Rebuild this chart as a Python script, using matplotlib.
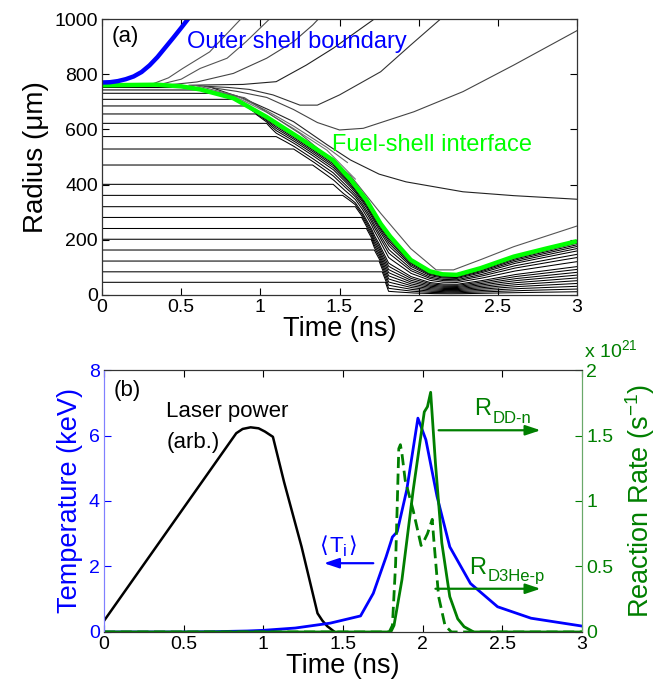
import numpy as np
import matplotlib
matplotlib.use("Agg")
import matplotlib.pyplot as plt

plt.rcParams['font.family'] = ['Liberation Sans', 'DejaVu Sans']
plt.rcParams['mathtext.fontset'] = 'custom'
plt.rcParams['mathtext.rm'] = 'Liberation Sans'
plt.rcParams['mathtext.it'] = 'Liberation Sans:italic'

# ---------------- panel (a): zone boundary trajectories ----------------
# fuel-shell interface radius (um) vs time (ns)
iface_t = [0.0, 0.35, 0.50, 0.62, 0.83, 1.04, 1.25, 1.46, 1.57, 1.67, 1.76, 1.82, 1.95, 2.07, 2.15, 2.24, 2.39, 2.60, 2.81, 3.0]
iface_r = [760, 762, 756, 745, 713, 645, 568, 488, 418, 344, 258, 212, 127, 86, 75, 73, 97, 139, 169, 195]

# outer shell boundary
outer_t = [0.0, 0.05, 0.10, 0.15, 0.20, 0.25, 0.30, 0.35, 0.40, 0.45, 0.50, 0.55]
outer_r = [770, 771, 775, 782, 792, 808, 832, 862, 897, 932, 968, 1005]

# initial radii of the fuel zone boundaries
fuel_r0 = [46, 84, 123, 163, 202, 241, 281, 320, 361, 401, 471, 529, 574, 622, 656, 685, 709, 731, 743, 752]
fuel_R0 = 760

# compression front: time at which it reaches a given radius
front_t = [0.0, 0.50, 0.62, 0.70, 0.85, 0.91, 0.97, 1.04, 1.10, 1.21, 1.33, 1.46, 1.52, 1.60, 1.64, 1.67, 1.70, 1.72, 1.75, 1.77, 1.79, 1.81, 3.0]
front_r = [760, 757, 745, 733, 709, 685, 656, 622, 574, 529, 471, 401, 361, 320, 281, 241, 202, 163, 123, 84, 46, 0, 0]

# ablated shell zone boundaries (t, r)
shell_lines = [
    ([0.32, 0.42, 0.51, 0.68, 0.87, 0.92], [765, 787, 821, 881, 996, 1020]),
    ([0.38, 0.50, 0.62, 0.79, 0.91, 1.04, 1.08], [765, 782, 821, 858, 918, 990, 1012]),
    ([0.45, 0.60, 0.83, 1.04, 1.21, 1.33, 1.37], [763, 772, 803, 858, 918, 978, 1002]),
    ([0.55, 0.75, 0.89, 1.10, 1.29, 1.46, 1.71, 1.74], [760, 762, 763, 773, 833, 894, 996, 1010]),
    ([0.60, 0.80, 0.93, 1.08, 1.25, 1.36, 1.50, 1.76, 1.95, 2.13, 2.16], [758, 752, 745, 725, 688, 688, 725, 809, 906, 996, 1010]),
    ([0.65, 0.85, 1.04, 1.21, 1.36, 1.50, 1.65, 1.97, 2.28, 2.60, 3.0], [755, 738, 716, 672, 625, 598, 604, 664, 737, 833, 958]),
    ([0.70, 0.89, 1.05, 1.21, 1.42, 1.57, 1.75, 1.92, 2.28, 2.60, 3.0], [750, 713, 672, 628, 545, 489, 438, 410, 374, 360, 347]),
    ([0.55, 0.83, 1.04, 1.21, 1.42, 1.60], [758, 722, 662, 603, 525, 420]),
    ([0.60, 0.85, 1.04, 1.21, 1.42, 1.55], [758, 722, 668, 612, 535, 480]),
    ([0.50, 0.90, 1.25, 1.57, 1.76, 1.95, 2.11, 2.22, 2.40, 2.60, 3.0], [760, 715, 585, 432, 296, 168, 91, 91, 130, 175, 250]),
]
shell_colors = ['#555555', '#555555', '#444444', '#222222', '#333333', '#444444', '#222222', '#777777', '#666666', '#555555']

# ---------------- panel (b): temperature, laser, reaction rates ----------------
laser_t = [0.0, 0.83, 0.87, 0.92, 0.97, 1.01, 1.06, 1.13, 1.24, 1.34, 1.37, 1.40, 1.44]
laser_p = [0.34, 6.07, 6.20, 6.25, 6.22, 6.12, 5.96, 4.58, 2.60, 0.57, 0.35, 0.18, 0.03]

ti_t = [0.0, 0.5, 0.7, 0.9, 1.0, 1.2, 1.42, 1.61, 1.69, 1.77, 1.81, 1.84, 1.90, 1.97, 2.02, 2.09, 2.17, 2.30, 2.47, 2.68, 3.0]
ti_T = [0.0, 0.0, 0.01, 0.03, 0.05, 0.12, 0.27, 0.49, 1.18, 2.29, 2.90, 3.06, 4.34, 6.53, 5.87, 4.14, 2.60, 1.48, 0.77, 0.42, 0.18]

rdd_t = [0.0, 1.80, 1.82, 1.87, 1.94, 2.01, 2.03, 2.05, 2.08, 2.12, 2.17, 2.22, 2.26, 2.32, 3.0]
rdd_r = [0.0, 0.0, 0.05, 0.40, 1.08, 1.68, 1.72, 1.83, 1.29, 0.68, 0.27, 0.10, 0.04, 0.0, 0.0]

rhe_t = [0.0, 1.79, 1.81, 1.83, 1.85, 1.86, 1.87, 1.89, 1.94, 1.99, 2.01, 2.03, 2.06, 2.07, 2.10, 2.14, 2.18, 3.0]
rhe_r = [0.0, 0.0, 0.05, 0.52, 1.40, 1.43, 1.36, 1.16, 0.93, 0.66, 0.70, 0.75, 0.86, 0.70, 0.27, 0.05, 0.0, 0.0]

time_ticks = [0, 0.5, 1, 1.5, 2, 2.5, 3]
time_labels = ['0', '0.5', '1', '1.5', '2', '2.5', '3']

BLUE = '#0000ff'
LIME = '#00ff00'
DKGREEN = '#007f00'
TICK_FS = 14
LABEL_FS = 19.5

fig = plt.figure(figsize=(6.68, 6.87), dpi=100)
ax1 = fig.add_axes([0.1527, 0.5706, 0.7111, 0.4017])

# fuel zone boundaries
t = np.linspace(0, 3, 1501)
R = np.interp(t, iface_t, iface_r)
C = np.minimum(np.interp(t, front_t, front_r), R)
den = np.where(fuel_R0 - C > 1e-9, fuel_R0 - C, 1.0)
for r0 in fuel_r0:
    frac = np.clip((r0 - C) / den, 0, 1)
    r = np.where(r0 < C, r0, C + (R - C) * frac)
    ax1.plot(t, r, color='black', lw=0.75)

for (st, sr), c in zip(shell_lines, shell_colors):
    ax1.plot(st, sr, color=c, lw=0.8)

ax1.plot(iface_t, iface_r, color=LIME, lw=3.2, solid_capstyle='butt')
ax1.plot(outer_t, outer_r, color=BLUE, lw=3.2, solid_capstyle='butt')

ax1.set_xlim(0, 3)
ax1.set_ylim(0, 1000)
ax1.set_xticks(time_ticks)
ax1.set_xticklabels(time_labels)
ax1.set_yticks([0, 200, 400, 600, 800, 1000])
ax1.tick_params(direction='in', top=True, right=True, labelsize=TICK_FS, length=5, width=0.8, pad=3)
ax1.set_xlabel('Time (ns)', fontsize=LABEL_FS, labelpad=0)
ax1.set_ylabel('Radius (\u03bcm)', fontsize=20, labelpad=4)
for s in ax1.spines.values():
    s.set_color('#333333')
    s.set_linewidth(0.9)
ax1.text(0.02, 0.935, '(a)', transform=ax1.transAxes, fontsize=16, va='center')
ax1.text(0.535, 915, 'Outer shell boundary', color=BLUE, fontsize=17, va='center')
ax1.text(1.45, 545, 'Fuel-shell interface', color=LIME, fontsize=17, va='center')

# ---------------- panel (b) ----------------
ax2 = fig.add_axes([0.1557, 0.0801, 0.7156, 0.3813])
ax3 = ax2.twinx()

ax2.plot(laser_t, laser_p, color='black', lw=1.8)
ax2.plot(ti_t, ti_T, color=BLUE, lw=2.0)
ax3.plot(rdd_t, rdd_r, color=DKGREEN, lw=2.0)
ax3.plot(rhe_t, rhe_r, color=DKGREEN, lw=2.0, ls=(0, (4, 2)))

ax2.set_xlim(0, 3)
ax2.set_ylim(0, 8)
ax3.set_ylim(0, 2)
ax2.set_xticks(time_ticks)
ax2.set_xticklabels(time_labels)
ax2.set_yticks([0, 2, 4, 6, 8])
ax3.set_yticks([0, 0.5, 1, 1.5, 2])
ax3.set_yticklabels(['0', '0.5', '1', '1.5', '2'])
ax2.tick_params(axis='x', direction='in', top=True, labelsize=TICK_FS, length=5, width=0.8, pad=3)
ax2.tick_params(axis='y', direction='in', labelsize=TICK_FS, length=5, width=0.8, colors=BLUE, pad=3)
ax3.tick_params(axis='y', direction='in', labelsize=TICK_FS, length=5, width=0.8, colors=DKGREEN, pad=3)
ax2.set_xlabel('Time (ns)', fontsize=LABEL_FS, labelpad=0)
ax2.set_ylabel('Temperature (keV)', fontsize=LABEL_FS, color=BLUE, labelpad=4)
ax3.set_ylabel('Reaction Rate (s$^{-1}$)', fontsize=LABEL_FS, color=DKGREEN, labelpad=7)
for ax in (ax2, ax3):
    ax.spines['top'].set_color('#333333')
    ax.spines['bottom'].set_color('#333333')
    ax.spines['left'].set_color('#8080ff')
    ax.spines['right'].set_color('#6aa86a')

ax2.text(0.02, 0.92, '(b)', transform=ax2.transAxes, fontsize=16, va='center')
ax2.text(0.39, 6.72, 'Laser power', fontsize=16, va='center')
ax2.text(0.39, 5.78, '(arb.)', fontsize=16, va='center')

arrow_kw = dict(arrowstyle='-|>,head_length=0.9,head_width=0.3', lw=1.6, shrinkA=0, shrinkB=0)
ax2.annotate('', xy=(1.38, 2.1), xytext=(1.69, 2.1),
             arrowprops=dict(color=BLUE, **arrow_kw))
# <Ti> label built from pieces so the angle brackets come from DejaVu Sans
ti_anchor = (1.35, 2.62)
for txt, dx, dy, fs, fam in [('\u27e8', 0, 0, 16, 'DejaVu Sans'),
                             ('T', 7.5, 0, 16, 'Liberation Sans'),
                             ('i', 17.2, -3.5, 12, 'Liberation Sans'),
                             ('\u27e9', 21.0, 0, 16, 'DejaVu Sans')]:
    ax2.annotate(txt, xy=ti_anchor, xytext=(dx, dy), textcoords='offset points',
                 color=BLUE, fontsize=fs, family=fam, va='center', ha='left')

ax3.annotate('', xy=(2.74, 1.54), xytext=(2.10, 1.54),
             arrowprops=dict(color=DKGREEN, **arrow_kw))
ax3.text(2.32, 1.70, 'R', color=DKGREEN, fontsize=17, va='center', ha='left')
ax3.text(2.44, 1.63, 'DD-n', color=DKGREEN, fontsize=12, va='center', ha='left')

ax3.annotate('', xy=(2.74, 0.33), xytext=(2.08, 0.33),
             arrowprops=dict(color=DKGREEN, **arrow_kw))
ax3.text(2.29, 0.49, 'R', color=DKGREEN, fontsize=17, va='center', ha='left')
ax3.text(2.41, 0.42, 'D3He-p', color=DKGREEN, fontsize=12, va='center', ha='left')

ax3.text(1.005, 1.035, 'x 10$^{21}$', transform=ax3.transAxes, color=DKGREEN,
         fontsize=14, ha='left', va='bottom')

fig.savefig('out.png', dpi=100)
